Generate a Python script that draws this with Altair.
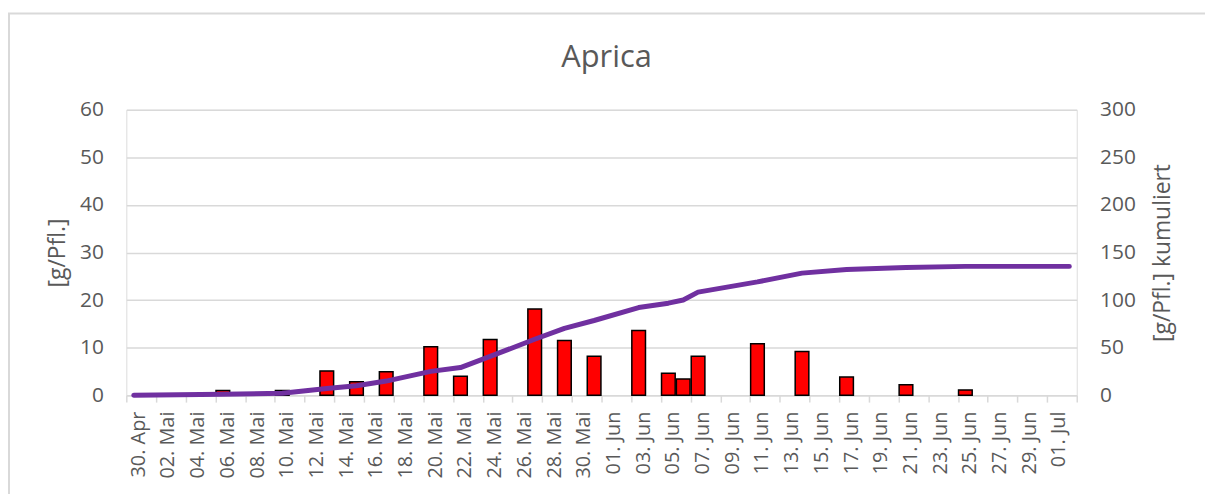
import altair as alt
import pandas as pd

# ---- data ----
chart_title = "Aprica"
left_title = "[g/Pfl.]"
right_title = "[g/Pfl.] kumuliert"

harvest_dates = [
    "2023-04-30", "2023-05-06", "2023-05-10", "2023-05-13", "2023-05-15",
    "2023-05-17", "2023-05-20", "2023-05-22", "2023-05-24", "2023-05-27",
    "2023-05-29", "2023-05-31", "2023-06-03", "2023-06-05", "2023-06-06",
    "2023-06-07", "2023-06-11", "2023-06-14", "2023-06-17", "2023-06-21",
    "2023-06-25", "2023-07-02",
]
harvest_values = [
    0.0, 1.0, 1.0, 5.1, 2.8,
    4.9, 10.2, 4.0, 11.7, 18.1,
    11.5, 8.2, 13.6, 4.6, 3.4,
    8.2, 10.8, 9.2, 3.8, 2.2,
    1.1, 0.0,
]
axis_start = "2023-04-30"
axis_end = "2023-07-03"
left_ticks = [0, 10, 20, 30, 40, 50, 60]
right_ticks = [0, 50, 100, 150, 200, 250, 300]
month_names = ["Jan", "Feb", "Mär", "Apr", "Mai", "Jun", "Jul", "Aug", "Sep", "Okt", "Nov", "Dez"]

# ---- build table ----
def to_ms(s):
    return int(pd.Timestamp(s, tz="UTC").timestamp() * 1000)

df = pd.DataFrame({"date": harvest_dates, "value": harvest_values})
df["t"] = [to_ms(d) for d in harvest_dates]

start_ms = to_ms(axis_start)
end_ms = to_ms(axis_end)
tick_ms = [int(d.timestamp() * 1000) for d in pd.date_range(axis_start, axis_end, freq="2D", tz="UTC")]

TEXT = "#595959"
GRID = "#d9d9d9"
FONT = "Open Sans"

months_js = "[" + ",".join("'" + m + "'" for m in month_names) + "]"
label_expr = (
    f"datum.value >= {end_ms} ? '' : "
    "(utcdate(datum.value) < 10 ? '0' : '') + utcdate(datum.value) + '. ' + "
    f"{months_js}[utcmonth(datum.value)]"
)

xscale = alt.Scale(type="utc", domain=[start_ms, end_ms])
xaxis = alt.Axis(
    values=tick_ms, labelExpr=label_expr, labelAngle=270, labelFont=FONT,
    labelFontSize=20, labelColor=TEXT, labelOffset=12, labelPadding=9,
    labelOverlap=False, labelFlush=False, tickSize=7, tickColor=GRID, tickWidth=1.5,
    domainColor=GRID, domainWidth=1.5, grid=False, title=None,
)

W, H = 956, 287

frame = alt.Chart(alt.Data(values=[{}])).mark_rect(
    fillOpacity=0, stroke=GRID, strokeWidth=2
).encode(
    x=alt.value(-118), x2=alt.value(1200), y=alt.value(-97), y2=alt.value(600)
)

bars = alt.Chart(df).transform_filter("datum.value > 0").transform_calculate(
    x0="datum.t + 0.04*86400000", x1="datum.t + 0.96*86400000"
).mark_bar(color="#FF0000", stroke="#000000", strokeWidth=1.5).encode(
    x=alt.X("x0:T", scale=xscale, axis=xaxis),
    x2="x1:T",
    y=alt.Y("value:Q", scale=alt.Scale(domain=[0, 60], nice=False, zero=True),
            axis=alt.Axis(values=left_ticks, grid=True, gridColor=GRID, gridWidth=1.5,
                          domain=False, ticks=False, labelPadding=23, labelFont=FONT,
                          labelFontSize=21, labelColor=TEXT, title=left_title,
                          titleFont=FONT, titleFontSize=23, titleColor=TEXT,
                          titleFontWeight="normal", titleAngle=270, titleX=-69,
                          titleY=H / 2, titleBaseline="middle", titleAlign="center")),
    y2=alt.datum(0),
)

line = alt.Chart(df).transform_window(
    cum="sum(value)", sort=[alt.SortField("t")], frame=[None, 0]
).transform_calculate(
    xm="datum.t + 43200000"
).mark_line(color="#7030A0", strokeWidth=5, strokeCap="round", strokeJoin="round").encode(
    x=alt.X("xm:T", scale=xscale, axis=xaxis),
    y=alt.Y("cum:Q", scale=alt.Scale(domain=[0, 300], nice=False, zero=True),
            axis=alt.Axis(orient="right", values=right_ticks, grid=False, domain=False,
                          ticks=False, labelPadding=23, labelFont=FONT, labelFontSize=21,
                          labelColor=TEXT, title=right_title, titleFont=FONT,
                          titleFontSize=23, titleColor=TEXT, titleFontWeight="normal",
                          titleAngle=270, titleX=86, titleY=H / 2,
                          titleBaseline="middle", titleAlign="center")),
    order="t:Q",
)

chart = alt.layer(frame, bars, line).resolve_scale(y="independent").properties(
    width=W, height=H,
    title=alt.TitleParams(chart_title, font=FONT, fontSize=31, color=TEXT,
                          fontWeight="normal", anchor="middle", frame="group",
                          baseline="alphabetic", offset=-86, dx=5),
    autosize=alt.AutoSizeParams(type="none"),
    padding={"left": 119, "top": 101, "right": 129, "bottom": 98},
).configure_view(strokeWidth=0).configure(background="white")

chart.save("out.html", embed_options={"renderer": "svg", "actions": False})
